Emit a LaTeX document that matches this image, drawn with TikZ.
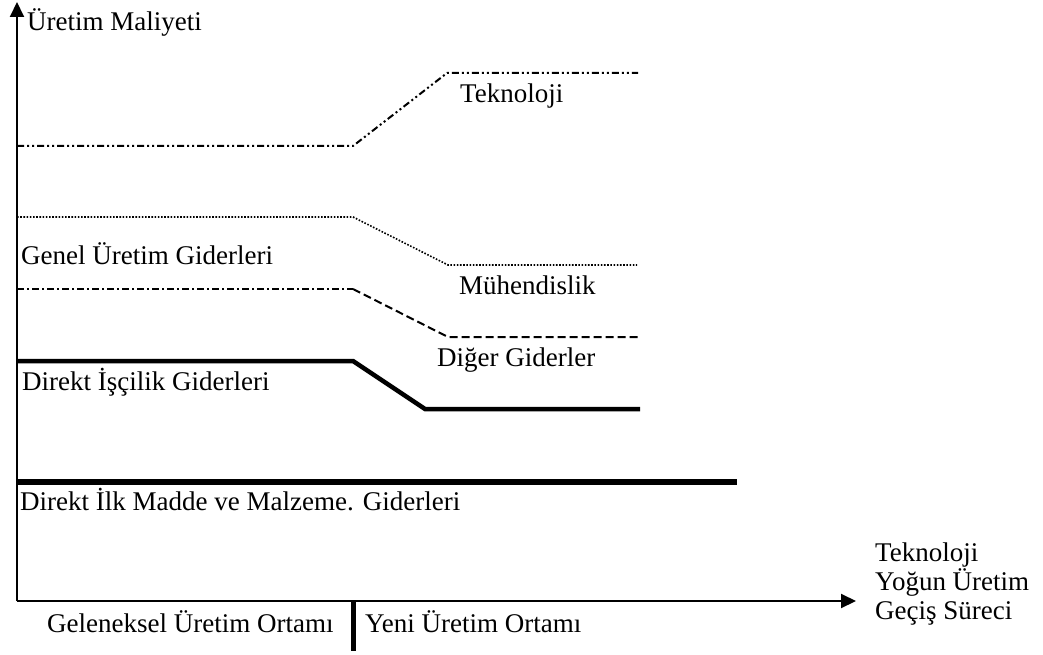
\documentclass[tikz,border=0pt]{standalone}
\usepackage{fontspec}
\setmainfont{Liberation Serif}
\usetikzlibrary{arrows.meta}
\begin{document}
\begin{tikzpicture}[x=1pt,y=-1pt,
  lbl/.style={anchor=base west, inner sep=0pt, font=\fontsize{27}{29}\selectfont},
  axisline/.style={line width=2pt, -{Triangle[length=15pt,width=14pt]}},
  dashdotdot/.style={line width=2pt, dash pattern=on 7pt off 3pt on 2pt off 3pt on 2pt off 3pt},
  dashdot/.style={line width=2pt, dash pattern=on 7pt off 3pt on 2pt off 3pt},
  dots/.style={line width=1.6pt, dash pattern=on 1.6pt off 1.6pt},
  dashes/.style={line width=2pt, dash pattern=on 8pt off 4pt},
  thickcost/.style={line width=4.5pt},
  heavycost/.style={line width=5.5pt},
  divider/.style={line width=5pt}]
\useasboundingbox (0,0) rectangle (1043,655);

% axes
\coordinate (O) at (17,601);
\coordinate (ytop) at (17,2);
\coordinate (xend) at (856,601);
\draw[axisline] (O) -- (ytop);
\draw[axisline] (O) -- (xend);
\node[lbl] (ylab) at (27,31) {Üretim Maliyeti};
% multi-line label: its base anchor sits on the last line
\node[lbl, align=left] (xlab) at (875,619) {Teknoloji\\Yoğun Üretim\\Geçiş Süreci};

% boundary between the two production environments
\coordinate (dtop) at (353,601);
\coordinate (dbot) at (353,651);
\draw[divider] (dtop) -- (dbot);
\node[lbl] (old) at (47,632) {Geleneksel Üretim Ortamı};
\node[lbl] (new) at (365,632) {Yeni Üretim Ortamı};

% technology costs
\coordinate (t1) at (17,146);
\coordinate (t2) at (353,146);
\coordinate (t3) at (447,73);
\coordinate (t4) at (638,73);
\draw[dashdotdot] (t1) -- (t2) -- (t3) -- (t4);
\node[lbl] (tek) at (460,103) {Teknoloji};

% engineering costs
\coordinate (m1) at (17,217);
\coordinate (m2) at (353,217);
\coordinate (m3) at (448,265);
\coordinate (m4) at (637,265);
\draw[dots] (m1) -- (m2) -- (m3) -- (m4);
\node[lbl] (muh) at (459,294) {Mühendislik};
\node[lbl] (genel) at (21,264) {Genel Üretim Giderleri};

% other costs
\coordinate (g1) at (17,289);
\coordinate (g2) at (353,289);
\coordinate (g3) at (448,337);
\coordinate (g4) at (640,337);
\draw[dashdot] (g1) -- (g2);
\draw[dashes] (g2) -- (g3) -- (g4);
\node[lbl] (diger) at (437,366) {Diğer Giderler};

% direct labour
\coordinate (l1) at (17,361);
\coordinate (l2) at (353,361);
\coordinate (l3) at (425,409);
\coordinate (l4) at (640,409);
\draw[thickcost] (l1) -- (l2) -- (l3) -- (l4);
\node[lbl] (iscilik) at (22,390) {Direkt İşçilik Giderleri};

% direct materials
\coordinate (d1) at (17,482);
\coordinate (d2) at (737,482);
\draw[heavycost] (d1) -- (d2);
\node[lbl] (madde) at (20,510) {Direkt İlk Madde ve Malzeme. Giderleri};
\end{tikzpicture}
\end{document}
